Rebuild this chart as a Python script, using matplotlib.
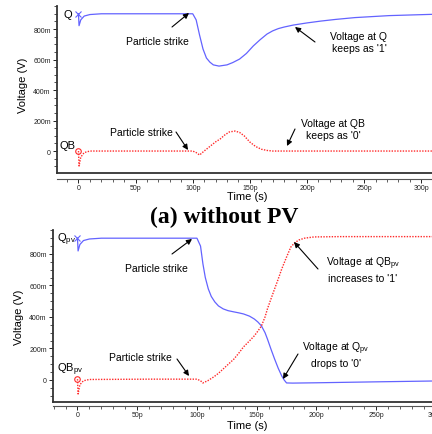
import matplotlib
matplotlib.use("Agg")
import matplotlib.pyplot as plt
from matplotlib.ticker import MultipleLocator

plt.rcParams['font.family'] = ['Liberation Sans', 'DejaVu Sans']
plt.rcParams['mathtext.fontset'] = 'custom'
plt.rcParams['mathtext.rm'] = 'Liberation Sans'
plt.rcParams['mathtext.it'] = 'Liberation Sans:italic'
plt.rcParams['mathtext.default'] = 'regular'

# ---- data (time in ps, voltage in mV) ----
t_q = [0, 0.5, 2, 5, 10, 20, 60, 100, 103, 106, 109, 112, 115, 118, 123, 130, 135,
       141, 147, 153, 159, 165, 170, 175, 180, 188, 200, 212, 225, 242, 272, 317]
v_q = [900, 822, 860, 885, 895, 900, 900, 900, 860, 760, 669, 610, 583, 565, 557, 565, 580,
       603, 640, 689, 730, 767, 788, 803, 813, 826, 840, 852, 863, 875, 888, 898]

t_qb = [0, 0.5, 2, 5, 10, 60, 100, 103, 106, 110, 115, 120, 124, 128, 132, 137, 141,
        145, 150, 155, 160, 165, 170, 180, 250, 317]
v_qb = [0, -98, -40, -10, 0, 0, 0, -10, -26, 0, 30, 60, 79, 105, 125, 131, 122,
        100, 59, 30, 12, 4, 0, 0, 0, 0]

t_qpv = [0, 0.5, 2, 5, 10, 20, 60, 100, 103, 105, 107, 109.5, 112, 115, 118, 122, 126,
         131, 135, 139, 144, 148, 151, 154, 157, 159, 162, 165, 168, 171, 173, 175, 180,
         200, 250, 304]
v_qpv = [900, 819, 860, 885, 895, 900, 900, 900, 850, 737, 650, 578, 530, 495, 470, 451, 440,
         432, 426, 419, 405, 387, 368, 343, 300, 260, 195, 133, 75, 25, 0, -19, -20,
         -18, -12, -6]

t_qbpv = [0, 0.5, 2, 5, 10, 60, 100, 103, 105, 109, 114, 118, 122, 126, 131, 135, 139,
          144, 148, 151, 154, 157, 159, 162, 165, 168, 171, 175, 178.6, 182, 185.5, 190,
          198, 220, 260, 304]
v_qbpv = [5, -89, -30, -5, 3, 5, 5, -5, -19, -5, 19, 42, 70, 98, 133, 170, 210,
          248, 280, 310, 343, 400, 451, 515, 578, 640, 705, 780, 844, 872, 889, 900,
          908, 910, 910, 910]

yticks = [0, 200, 400, 600, 800]
ytick_labels = ['0', '200m', '400m', '600m', '800m']
xticks = [0, 50, 100, 150, 200, 250, 300]
xtick_labels = ['0', '50p', '100p', '150p', '200p', '250p', '300p']

BLUE = '#6363ff'
RED = '#ff2a2a'

W, H = 432, 435
fig = plt.figure(figsize=(W / 100, H / 100), dpi=100)


def px(x, y):
    return (x / W, 1 - y / H)


def make_axes(left, top, bottom, xlim, ylim, offset_px):
    ax = fig.add_axes([left / W, 1 - bottom / H, 1.02 - left / W, (bottom - top) / H])
    ax.set_xlim(*xlim)
    ax.set_ylim(*ylim)
    for s in ['top', 'right']:
        ax.spines[s].set_visible(False)
    ax.spines['left'].set_linewidth(1.3)
    ax.spines['left'].set_color('#333333')
    ax.spines['bottom'].set_linewidth(1.3)
    ax.spines['bottom'].set_color('#333333')
    ax.set_yticks(yticks)
    ax.set_yticklabels(ytick_labels)
    ax.yaxis.set_minor_locator(MultipleLocator(50))
    ax.tick_params(axis='y', which='major', direction='out', length=3, width=0.7,
                   labelsize=5, pad=1.5, colors='#222222')
    ax.tick_params(axis='y', which='minor', direction='out', length=2, width=0.6, colors='#333333')
    ax.tick_params(axis='x', which='both', bottom=False, labelbottom=False)
    sec = ax.secondary_xaxis(-offset_px / (bottom - top))
    sec.set_xticks(xticks)
    sec.set_xticklabels(xtick_labels)
    sec.xaxis.set_minor_locator(MultipleLocator(10))
    sec.spines['bottom'].set_linewidth(0.8)
    sec.spines['bottom'].set_color('#555555')
    sec.tick_params(axis='x', which='major', direction='out', length=3, width=0.7,
                    labelsize=5, pad=0.8, colors='#222222')
    sec.tick_params(axis='x', which='minor', direction='out', length=2, width=0.6, colors='#444444')
    return ax


arrow = dict(arrowstyle='-|>', color='black', lw=0.8, mutation_scale=8, shrinkA=0, shrinkB=0)
tfs = 7.5


def ann(text, xy_head, xy_tail, xy_text, ha='center'):
    fig.text(*px(*xy_text), text, fontsize=tfs, ha=ha, va='center', linespacing=1.25)
    fig.add_artist(matplotlib.patches.FancyArrowPatch(px(*xy_tail), px(*xy_head),
                                                      transform=fig.transFigure, **arrow))


# ---------------- top panel ----------------
ax1 = make_axes(57, 7, 174, (-18.8, 317), (-144, 951), 6)
ax1.plot(t_q, v_q, color=BLUE, lw=0.9)
ax1.plot(t_qb, v_qb, color=RED, lw=1.0, ls=(0, (1, 1)))
ax1.plot([t_q[0]], [v_q[0]], marker='x', color=BLUE, ms=4, mew=0.8)
ax1.plot([t_qb[0]], [v_qb[0]], marker='o', mfc='none', mec=RED, ms=4, mew=0.8)
fig.text(*px(23, 85), 'Voltage (V)', rotation=90, fontsize=8, ha='center', va='center')
fig.text(*px(247, 197), 'Time (s)', fontsize=8, ha='center', va='center')
fig.text(*px(64, 15), 'Q', fontsize=8, ha='left', va='center')
fig.text(*px(60, 146), 'QB', fontsize=8, ha='left', va='center')

ann('Particle strike', (189, 14), (172, 28), (157, 42))
ann('Voltage at Q\nkeeps as \'1\'', (295, 28), (315, 43), (359, 43))
ann('Particle strike', (188, 151), (176, 133), (141, 133))
ann('Voltage at QB\nkeeps as \'0\'', (287, 147), (295, 130), (333, 130))

fig.text(*px(224, 217), '(a) without PV', fontsize=17, fontweight='bold',
         family='Liberation Serif', ha='center', va='center')

# ---------------- bottom panel ----------------
ax2 = make_axes(53, 231, 403, (-20.5, 304), (-140, 952), 4)
ax2.plot(t_qpv, v_qpv, color=BLUE, lw=0.9)
ax2.plot(t_qbpv, v_qbpv, color=RED, lw=1.0, ls=(0, (1, 1)))
ax2.plot([t_qpv[0]], [v_qpv[0]], marker='x', color=BLUE, ms=4, mew=0.8)
ax2.plot([t_qbpv[0]], [v_qbpv[0]], marker='o', mfc='none', mec=RED, ms=4, mew=0.8)
fig.text(*px(19, 317), 'Voltage (V)', rotation=90, fontsize=8, ha='center', va='center')
fig.text(*px(247, 426), 'Time (s)', fontsize=8, ha='center', va='center')
fig.text(*px(57, 240), 'Q$_{pv}$', fontsize=8, ha='left', va='center')
fig.text(*px(57, 370), 'QB$_{pv}$', fontsize=8, ha='left', va='center')

ann('Particle strike', (192, 240), (172, 255), (156, 269))
ann('Particle strike', (189, 377), (177, 360), (140, 358))
ann('Voltage at QB$_{pv}$\nincreases to \'1\'', (294, 243), (318, 270), (363, 270))
ann('Voltage at Q$_{pv}$\ndrops to \'0\'', (283, 380), (298, 355), (336, 355))

fig.savefig('out.png', dpi=100)
